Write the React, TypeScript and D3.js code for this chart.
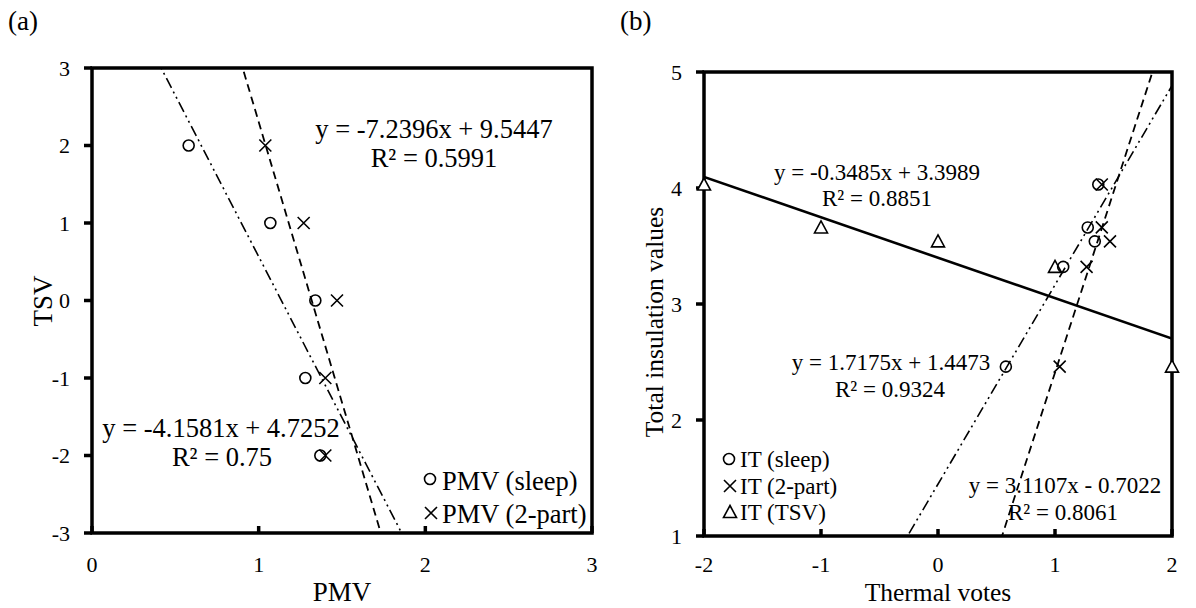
import React from "react";
import * as d3 from "d3";

// panel (a): TSV against PMV
const tsv = [2, 1, 0, -1, -2];
const pmvSleep = [0.58, 1.07, 1.34, 1.28, 1.37];
const pmvTwoPart = [1.04, 1.27, 1.47, 1.4, 1.4];

// panel (b): total insulation against the thermal votes
const insulation = [2.46, 3.32, 3.54, 3.66, 4.03];

// trend lines, as the equations printed on the chart
const fitSleepA = { slope: -4.1581, intercept: 4.7252 };
const fitTwoPartA = { slope: -7.2396, intercept: 9.5447 };
const fitSleepB = { slope: 1.7175, intercept: 1.4473 };
const fitTwoPartB = { slope: 3.1107, intercept: -0.7022 };
const fitTsvB = { slope: -0.3485, intercept: 3.3989 };

const xTicksA = [0, 1, 2, 3];
const yTicksA = [-3, -2, -1, 0, 1, 2, 3];
const xTicksB = [-2, -1, 0, 1, 2];
const yTicksB = [1, 2, 3, 4, 5];

const FONT = "'Liberation Serif', 'Times New Roman', serif";
const DASH = "8,5";
const DASH_DOT_DOT = "11,4,2,4,2,4";

type Scale = d3.ScaleLinear<number, number>;

function Circle({ cx, cy }: { cx: number; cy: number }) {
  return <circle cx={cx} cy={cy} r={5.5} fill="none" stroke="#000" strokeWidth={1.6} />;
}

function Cross({ cx, cy }: { cx: number; cy: number }) {
  const s = 6;
  return (
    <path
      d={`M${cx - s},${cy - s}L${cx + s},${cy + s}M${cx - s},${cy + s}L${cx + s},${cy - s}`}
      stroke="#000"
      strokeWidth={1.6}
      fill="none"
    />
  );
}

function Triangle({ cx, cy }: { cx: number; cy: number }) {
  const s = 6.5;
  return (
    <path
      d={`M${cx},${cy - s}L${cx + s},${cy + s * 0.85}L${cx - s},${cy + s * 0.85}Z`}
      stroke="#000"
      strokeWidth={1.6}
      fill="#fff"
    />
  );
}

function FitLine({ fit, x, y, dash, width, clip }: any) {
  const [x0, x1] = x.domain();
  const line = d3
    .line<number>()
    .x((d) => x(d))
    .y((d) => y(fit.slope * d + fit.intercept));
  return (
    <path
      d={line([x0, x1]) as string}
      fill="none"
      stroke="#000"
      strokeWidth={width}
      strokeDasharray={dash}
      clipPath={`url(#${clip})`}
    />
  );
}

function Frame({ x, y, xTicks, yTicks, tickSize, clip }: { x: Scale; y: Scale; xTicks: number[]; yTicks: number[]; tickSize: number; clip: string }) {
  const [l, r] = x.range();
  const [b, t] = y.range();
  return (
    <g>
      <defs>
        <clipPath id={clip}>
          <rect x={l} y={t} width={r - l} height={b - t} />
        </clipPath>
      </defs>
      <rect x={l} y={t} width={r - l} height={b - t} fill="none" stroke="#000" strokeWidth={3.5} />
      {yTicks.map((v) => (
        <g key={"y" + v}>
          <line x1={l - 8} x2={l} y1={y(v)} y2={y(v)} stroke="#000" strokeWidth={3.5} />
          <text x={l - 22} y={y(v) + 7.5} textAnchor="end" fontSize={tickSize}>
            {v}
          </text>
        </g>
      ))}
      {xTicks.map((v) => (
        <g key={"x" + v}>
          <line x1={x(v)} x2={x(v)} y1={b} y2={b - 7} stroke="#000" strokeWidth={3.5} />
          <text x={x(v)} y={572} textAnchor="middle" fontSize={tickSize}>
            {v}
          </text>
        </g>
      ))}
    </g>
  );
}

function PanelA() {
  const x = d3.scaleLinear([0, 3], [92, 592]);
  const y = d3.scaleLinear([-3, 3], [533, 68]);
  return (
    <g>
      <text x={8} y={30} fontSize={27}>(a)</text>
      <Frame x={x} y={y} xTicks={xTicksA} yTicks={yTicksA} tickSize={22} clip="clipA" />
      <FitLine fit={fitSleepA} x={x} y={y} dash={DASH_DOT_DOT} width={1.6} clip="clipA" />
      <FitLine fit={fitTwoPartA} x={x} y={y} dash={DASH} width={1.8} clip="clipA" />
      {tsv.map((v, i) => (
        <Circle key={"s" + i} cx={x(pmvSleep[i])} cy={y(v)} />
      ))}
      {tsv.map((v, i) => (
        <Cross key={"t" + i} cx={x(pmvTwoPart[i])} cy={y(v)} />
      ))}
      <g fontSize={26.5} textAnchor="middle">
        <text x={434} y={138}>y = -7.2396x + 9.5447</text>
        <text x={434} y={167}>R² = 0.5991</text>
        <text x={221} y={437}>y = -4.1581x + 4.7252</text>
        <text x={222} y={466}>R² = 0.75</text>
      </g>
      <Circle cx={430} cy={479} />
      <text x={442} y={490} fontSize={26.5}>PMV (sleep)</text>
      <Cross cx={431} cy={513} />
      <text x={442} y={523} fontSize={26.5}>PMV (2-part)</text>
      <text x={342} y={601} fontSize={27} textAnchor="middle">PMV</text>
      <text transform="translate(52,301) rotate(-90)" fontSize={27} textAnchor="middle">TSV</text>
    </g>
  );
}

function PanelB() {
  const x = d3.scaleLinear([-2, 2], [704, 1172]);
  const y = d3.scaleLinear([1, 5], [536, 72]);
  return (
    <g>
      <text x={620} y={30} fontSize={27}>(b)</text>
      <Frame x={x} y={y} xTicks={xTicksB} yTicks={yTicksB} tickSize={22} clip="clipB" />
      <FitLine fit={fitTsvB} x={x} y={y} width={2.6} clip="clipB" />
      <FitLine fit={fitSleepB} x={x} y={y} dash={DASH_DOT_DOT} width={1.6} clip="clipB" />
      <FitLine fit={fitTwoPartB} x={x} y={y} dash={DASH} width={1.8} clip="clipB" />
      {tsv.map((v, i) => (
        <Triangle key={"v" + i} cx={x(v)} cy={y(insulation[i])} />
      ))}
      {tsv.map((_, i) => (
        <Circle key={"s" + i} cx={x(pmvSleep[i])} cy={y(insulation[i])} />
      ))}
      {tsv.map((_, i) => (
        <Cross key={"t" + i} cx={x(pmvTwoPart[i])} cy={y(insulation[i])} />
      ))}
      <g fontSize={23} textAnchor="middle">
        <text x={877} y={180}>y = -0.3485x + 3.3989</text>
        <text x={877} y={206}>R² = 0.8851</text>
        <text x={891} y={370}>y = 1.7175x + 1.4473</text>
        <text x={890} y={397}>R² = 0.9324</text>
        <text x={1065} y={493}>y = 3.1107x - 0.7022</text>
        <text x={1063} y={520}>R² = 0.8061</text>
      </g>
      <Circle cx={729} cy={459} />
      <text x={740} y={467} fontSize={23}>IT (sleep)</text>
      <Cross cx={730} cy={486} />
      <text x={740} y={494} fontSize={23}>IT (2-part)</text>
      <Triangle cx={730} cy={512} />
      <text x={740} y={520} fontSize={23}>IT (TSV)</text>
      <text x={938} y={601} fontSize={25.5} textAnchor="middle">Thermal votes</text>
      <text transform="translate(663,322) rotate(-90)" fontSize={25.5} textAnchor="middle">
        Total insulation values
      </text>
    </g>
  );
}

export default function App() {
  return (
    <svg
      width={1196}
      height={608}
      viewBox="0 0 1196 608"
      style={{ position: "absolute", left: 0, top: 0, background: "#fff" }}
      fontFamily={FONT}
    >
      <rect width={1196} height={608} fill="#fff" />
      <PanelA />
      <PanelB />
    </svg>
  );
}
